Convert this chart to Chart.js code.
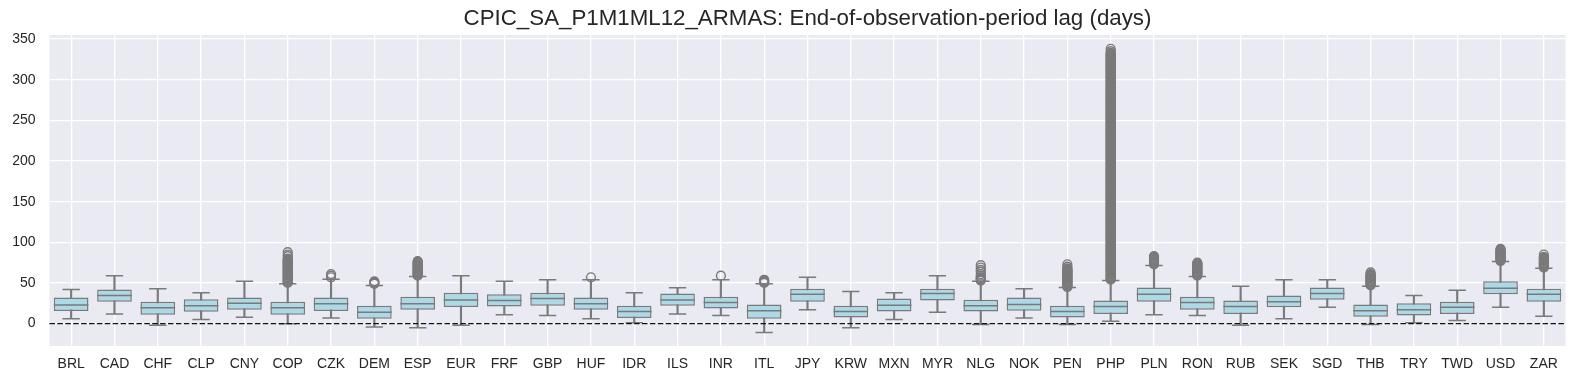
<!DOCTYPE html>
<html>
<head>
<meta charset="utf-8">
<script src="https://cdn.jsdelivr.net/npm/chart.js@4.4.1/dist/chart.umd.min.js"></script>
<style>
  html, body { margin: 0; padding: 0; background: #ffffff; }
  #wrap { width: 1584px; height: 384px; }
</style>
</head>
<body>
<div id="wrap"><canvas id="c" width="1584" height="384"></canvas></div>
<script>
// ---------------- DATA ----------------
const categories = ['BRL','CAD','CHF','CLP','CNY','COP','CZK','DEM','ESP','EUR','FRF','GBP','HUF','IDR','ILS','INR','ITL','JPY','KRW','MXN','MYR','NLG','NOK','PEN','PHP','PLN','RON','RUB','SEK','SGD','THB','TRY','TWD','USD','ZAR'];

const whiskerLow  = [6, 12, -2, 5, 8, 0, 7, -4, -5, -2, 11, 10, 6, 1, 12, 10, -11, 17, -5, 5, 14, -1, 7, -1, 3, 11, 10, -2, 6, 20, -1, 1, 4, 20, 9];
const quartile1   = [15.5, 27, 11, 14.5, 17, 11, 15.5, 6, 17, 20.5, 21, 22, 17, 7, 22, 18.5, 6, 27, 7.5, 15, 28.5, 15, 16, 7.5, 12, 27, 17, 12, 20, 29.5, 8.5, 10, 12, 36, 27];
const medians     = [23, 34.5, 19.5, 22, 25, 19.5, 24.5, 14, 24.5, 29, 28.5, 31, 24.5, 15, 29, 26, 16, 36, 15, 22.5, 37, 22, 23.5, 15, 21, 36, 26, 21, 27, 37, 16, 17, 20, 43.5, 36];
const quartile3   = [32, 42, 27, 30, 32, 27, 32, 22, 33, 38, 36, 38, 32, 22, 37, 33, 23.5, 43, 22, 31, 43, 29.5, 32, 22, 28.5, 44.5, 33, 28.5, 34.5, 44.5, 23.5, 25, 27, 52, 43];
const whiskerHigh = [42, 59, 43, 38, 52, 49, 54.5, 47, 58, 59, 52, 54, 54, 38, 44, 54, 49, 57, 39.5, 38, 59, 52, 43, 44.5, 53, 71.5, 58, 46, 54, 54, 46, 34.5, 41, 76.5, 68];

// outliers (fliers) per currency
const outliersCOP = [50,51,52,53,54,55,56,57,58,59,60,61,62,63,64,65,66,67,68,69,70,71,72,73,74,75,76,77,78,79,80,83,85,88];
const outliersCZK = [57,59,61];
const outliersDEM = [49,50,51,52];
const outliersESP = [59,60,61,62,63,64,65,66,67,68,69,70,71,72,73,74,75,76,77];
const outliersHUF = [57];
const outliersINR = [59];
const outliersITL = [50,51,52,53,54];
const outliersNLG = [53,54,55,56,57,59,61,64,66,69,72];
const outliersPEN = [45,46,47,48,49,50,51,52,53,54,55,56,57,58,59,60,61,62,63,64,65,66,67,68,70,73];
const outliersPHP = [
  54,55,56,57,58,59,60,61,62,63,64,65,66,67,68,69,70,71,72,73,
  74,75,76,77,78,79,80,81,82,83,84,85,86,87,88,89,90,91,92,93,
  94,95,96,97,98,99,100,101,102,103,104,105,106,107,108,109,110,111,112,113,
  114,115,116,117,118,119,120,121,122,123,124,125,126,127,128,129,130,131,132,133,
  134,135,136,137,138,139,140,141,142,143,144,145,146,147,148,149,150,151,152,153,
  154,155,156,157,158,159,160,161,162,163,164,165,166,167,168,169,170,171,172,173,
  174,175,176,177,178,179,180,181,182,183,184,185,186,187,188,189,190,191,192,193,
  194,195,196,197,198,199,200,201,202,203,204,205,206,207,208,209,210,211,212,213,
  214,215,216,217,218,219,220,221,222,223,224,225,226,227,228,229,230,231,232,233,
  234,235,236,237,238,239,240,241,242,243,244,245,246,247,248,249,250,251,252,253,
  254,255,256,257,258,259,260,261,262,263,264,265,266,267,268,269,270,271,272,273,
  274,275,276,277,278,279,280,281,282,283,284,285,286,287,288,289,290,291,292,293,
  294,295,296,297,298,299,300,301,302,303,304,305,306,307,308,309,310,311,312,313,
  314,315,316,317,318,319,320,321,322,323,324,325,326,327,328,329,330,331,332,333,
  335,338];
const outliersPLN = [73,74,75,76,77,78,79,80,81,82,83];
const outliersRON = [59,60,61,62,63,64,65,66,67,68,69,70,71,72,73,74,75];
const outliersTHB = [47,48,49,50,51,52,53,54,55,56,57,58,59,60,61,63];
const outliersUSD = [77,78,79,80,81,82,83,84,85,86,87,88,89,90,91,92];
const outliersZAR = [69,70,71,72,73,74,75,76,77,78,79,80,81,82,85];

const yTicks = [0, 50, 100, 150, 200, 250, 300, 350];
const titleText = 'CPIC_SA_P1M1ML12_ARMAS: End-of-observation-period lag (days)';

// ---------------- BUILD ----------------
const outlierSets = [
  ['COP', outliersCOP], ['CZK', outliersCZK], ['DEM', outliersDEM], ['ESP', outliersESP],
  ['HUF', outliersHUF], ['INR', outliersINR], ['ITL', outliersITL], ['NLG', outliersNLG],
  ['PEN', outliersPEN], ['PHP', outliersPHP], ['PLN', outliersPLN], ['RON', outliersRON],
  ['THB', outliersTHB], ['USD', outliersUSD], ['ZAR', outliersZAR]
];
const outlierPoints = [];
outlierSets.forEach(([cat, arr]) => arr.forEach(v => outlierPoints.push({ x: cat, y: v })));

const capPoints = [];
categories.forEach((c, i) => {
  capPoints.push({ x: c, y: whiskerLow[i] });
  capPoints.push({ x: c, y: whiskerHigh[i] });
});

const GRAY = '#7a7a7a';
const BOXFILL = '#add8e6';
const TEXT = '#262626';
const FONT = "'Liberation Sans', Arial, sans-serif";

function halfBox(ctx) {
  const xs = ctx.chart.scales && ctx.chart.scales.x;
  if (!xs || !xs.width) return 17;
  return xs.width / categories.length * 0.4;
}

const bgPlugin = {
  id: 'bg',
  beforeDraw(chart) {
    const { ctx, chartArea } = chart;
    ctx.save();
    ctx.fillStyle = '#ffffff';
    ctx.fillRect(0, 0, chart.width, chart.height);
    ctx.fillStyle = '#eaeaf2';
    ctx.fillRect(chartArea.left, chartArea.top, chartArea.right - chartArea.left, chartArea.bottom - chartArea.top);
    ctx.restore();
  }
};

// center the title over the plotting area (as matplotlib does)
const titleCenterPlugin = {
  id: 'titleCenter',
  afterLayout(chart) {
    if (chart.titleBlock) {
      chart.titleBlock.left = chart.chartArea.left;
      chart.titleBlock.right = chart.chartArea.right;
    }
  }
};

const zeroLinePlugin = {
  id: 'zeroLine',
  afterDatasetsDraw(chart) {
    const { ctx, chartArea, scales } = chart;
    const y = scales.y.getPixelForValue(0);
    ctx.save();
    ctx.strokeStyle = '#111111';
    ctx.lineWidth = 1.4;
    ctx.setLineDash([5.5, 2.4]);
    ctx.beginPath();
    ctx.moveTo(chartArea.left, y);
    ctx.lineTo(chartArea.right, y);
    ctx.stroke();
    ctx.restore();
  }
};

new Chart(document.getElementById('c'), {
  type: 'bar',
  data: {
    labels: categories,
    datasets: [
      {
        type: 'bar', label: 'whiskers',
        data: categories.map((c, i) => [whiskerLow[i], whiskerHigh[i]]),
        backgroundColor: GRAY, borderWidth: 0, barThickness: 1.5,
        grouped: false, order: 4
      },
      {
        type: 'bar', label: 'boxes',
        data: categories.map((c, i) => [quartile1[i], quartile3[i]]),
        backgroundColor: BOXFILL, borderColor: GRAY, borderWidth: 1.5, borderSkipped: false,
        barPercentage: 0.8, categoryPercentage: 1.0,
        grouped: false, order: 3
      },
      {
        type: 'line', label: 'medians',
        data: medians, showLine: false,
        pointStyle: 'line', pointRadius: halfBox, pointHoverRadius: halfBox,
        pointBorderColor: GRAY, pointBorderWidth: 1.5, order: 2
      },
      {
        type: 'line', label: 'caps',
        data: capPoints, showLine: false,
        pointStyle: 'line', pointRadius: (ctx) => halfBox(ctx) / 2, pointHoverRadius: (ctx) => halfBox(ctx) / 2,
        pointBorderColor: GRAY, pointBorderWidth: 1.5, order: 1
      },
      {
        type: 'line', label: 'outliers',
        data: outlierPoints, showLine: false,
        pointStyle: 'circle', pointRadius: 4.4, pointHoverRadius: 4.4,
        pointBackgroundColor: 'rgba(0,0,0,0)', pointBorderColor: GRAY, pointBorderWidth: 1.4, order: 0
      }
    ]
  },
  options: {
    responsive: false,
    animation: false,
    devicePixelRatio: 1,
    layout: { padding: { left: 0, right: 10.5, top: 0, bottom: 0 } },
    plugins: {
      legend: { display: false },
      tooltip: { enabled: false },
      title: {
        display: true, text: titleText, color: TEXT,
        font: { family: FONT, size: 22.3, weight: 'normal' },
        padding: { top: 5, bottom: 3.2 }
      }
    },
    scales: {
      x: {
        type: 'category', offset: true,
        grid: { offset: false, color: '#ffffff', lineWidth: 1.3, drawTicks: false },
        border: { display: false },
        ticks: { color: TEXT, font: { family: FONT, size: 14 }, padding: 10, maxRotation: 0, autoSkip: false },
        afterFit(scale) { scale.height = 38; }
      },
      y: {
        type: 'linear', min: -27.5, max: 355,
        afterBuildTicks(scale) { scale.ticks = yTicks.map(v => ({ value: v })); },
        grid: { color: '#ffffff', lineWidth: 1.3, drawTicks: false },
        border: { display: false },
        ticks: { color: TEXT, font: { family: FONT, size: 14 }, padding: 14 },
        afterFit(scale) { scale.width = 49.5; }
      }
    }
  },
  plugins: [bgPlugin, titleCenterPlugin, zeroLinePlugin]
});
</script>
</body>
</html>
